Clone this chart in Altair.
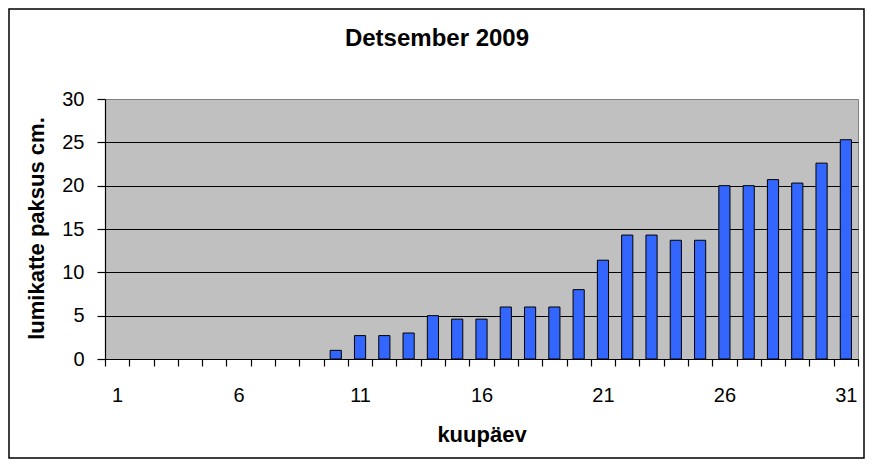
import altair as alt
import pandas as pd

days = list(range(1, 32))
snow_cm = [0, 0, 0, 0, 0, 0, 0, 0, 0,
           1.0, 2.7, 2.7, 3.0, 5.0, 4.6, 4.6, 6.0, 6.0, 6.0, 8.0,
           11.4, 14.3, 14.3, 13.7, 13.7, 20.0, 20.0, 20.7, 20.3, 22.6, 25.3]
y_ticks = [0, 5, 10, 15, 20, 25, 30]

title_text = "Detsember 2009"
x_title = "kuupäev"
y_title = "lumikatte paksus cm."

FONT = "Liberation Sans"

df = pd.DataFrame({"day": days, "snow": snow_cm})

bars = alt.Chart(df).transform_filter(
    "datum.snow > 0"
).mark_bar(
    width=alt.RelativeBandSize(0.46),
    color="#3366FF",
    stroke="black",
    strokeWidth=1,
).encode(
    x=alt.X(
        "day:O",
        scale=alt.Scale(domain=days, paddingInner=0, paddingOuter=0),
        axis=alt.Axis(
            title=x_title,
            titleFont=FONT,
            titleFontSize=22,
            titleFontWeight="bold",
            titleColor="black",
            titleY=82,
            titleBaseline="alphabetic",
            labelAngle=0,
            labelFont=FONT,
            labelFontSize=20,
            labelColor="black",
            labelPadding=19,
            labelExpr="(datum.value - 1) % 5 == 0 ? datum.label : ''",
            ticks=True,
            tickBand="extent",
            tickSize=7,
            tickColor="black",
            tickWidth=1.2,
            domainColor="black",
            domainWidth=1.2,
            grid=False,
        ),
    ),
    y=alt.Y(
        "snow:Q",
        scale=alt.Scale(domain=[0, 30], nice=False),
        axis=alt.Axis(
            values=y_ticks,
            title=y_title,
            titleFont=FONT,
            titleFontSize=22,
            titleFontWeight="bold",
            titleColor="black",
            titleAngle=270,
            titleX=-62,
            titleY=129,
            titleAlign="center",
            titleBaseline="alphabetic",
            labelFont=FONT,
            labelFontSize=20,
            labelColor="black",
            labelPadding=13,
            tickSize=8,
            tickColor="black",
            tickWidth=1.2,
            domainColor="black",
            domainWidth=1.2,
            grid=True,
            gridColor={"condition": {"test": "datum.value >= 30 || datum.value <= 0",
                                     "value": "transparent"},
                       "value": "black"},
            gridWidth=1,
        ),
    ),
)

one = pd.DataFrame({"label": [title_text]})

frame = alt.Chart(one).mark_rect(
    fill=None, stroke="black", strokeWidth=1.5
).encode(
    x=alt.value(-96), x2=alt.value(759),
    y=alt.value(-90), y2=alt.value(359),
)

title = alt.Chart(one).mark_text(
    font=FONT, fontSize=24, fontWeight="bold", color="black",
    align="center", baseline="alphabetic",
).encode(
    x=alt.value(332), y=alt.value(-53), text="label:N",
)

chart = alt.layer(frame, bars, title).properties(
    width=753,
    height=260,
    autosize=alt.AutoSizeParams(type="none"),
    padding={"left": 97, "top": 91, "right": 7, "bottom": 101},
    background="white",
).configure_view(
    fill="#C0C0C0",
    stroke="#808080",
    strokeWidth=1,
)

chart.save("out.html", embed_options={"renderer": "svg", "actions": False})
